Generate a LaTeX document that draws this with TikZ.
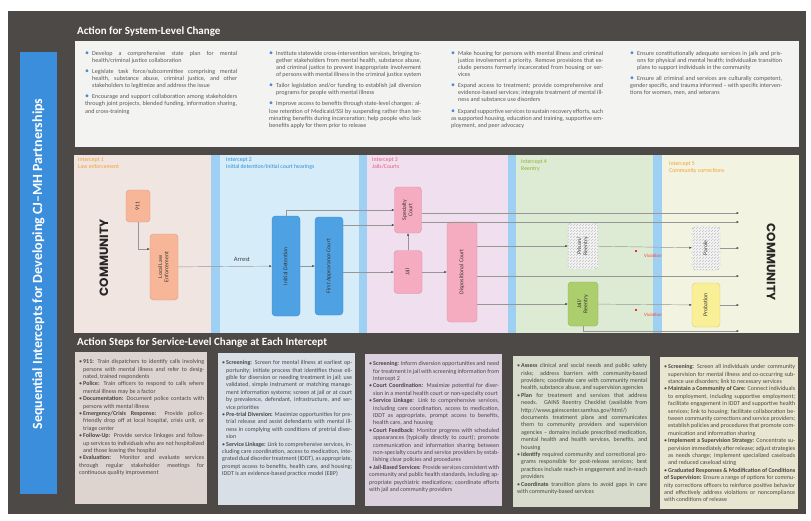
\documentclass[tikz,border=0pt]{standalone}
\usepackage{fontspec}
\setmainfont{Carlito}
\newfontfamily\commfont{Poppins}
\usepackage{xcolor}
\usetikzlibrary{arrows.meta, positioning, calc, patterns}
\definecolor{frameGray}{RGB}{76,73,70}
\definecolor{titleBlue}{RGB}{58,142,220}
\definecolor{bulletBlue}{RGB}{70,140,215}
\definecolor{panelWhite}{RGB}{243,243,242}
\definecolor{icOneBg}{RGB}{241,229,225}
\definecolor{icTwoBg}{RGB}{214,237,249}
\definecolor{stripeBlue}{RGB}{158,208,243}
\definecolor{icThreeBg}{RGB}{239,223,239}
\definecolor{icFourBg}{RGB}{221,235,213}
\definecolor{icFiveBg}{RGB}{243,243,226}
\definecolor{icOrange}{RGB}{242,160,45}
\definecolor{icBlue}{RGB}{45,140,215}
\definecolor{icPink}{RGB}{232,92,122}
\definecolor{icGreen}{RGB}{140,178,45}
\definecolor{nodeSalmon}{RGB}{247,182,152}
\definecolor{nodeBlue}{RGB}{78,162,228}
\definecolor{nodePink}{RGB}{246,172,192}
\definecolor{nodeGreen}{RGB}{172,206,108}
\definecolor{nodeYellow}{RGB}{249,239,150}
\definecolor{lineGray}{RGB}{150,150,150}
\definecolor{stepOne}{RGB}{221,211,207}
\definecolor{stepTwo}{RGB}{216,223,230}
\definecolor{stepThree}{RGB}{221,208,222}
\definecolor{stepFour}{RGB}{216,220,204}
\definecolor{stepFive}{RGB}{232,230,208}

\newcommand{\vlabel}[1]{\rotatebox{90}{\begin{tabular}{@{}c@{}}#1\end{tabular}}}
\newcommand{\tbl}{\par\vspace{4pt}\hangindent=7pt\hangafter=1\noindent\makebox[7pt][l]{\textcolor{bulletBlue}{\scalebox{1.3}{\textbullet}}}}
\newcommand{\blt}{\par\hangindent=4pt\hangafter=1\noindent\makebox[4pt][l]{\textbullet}}

\begin{document}
\begin{tikzpicture}[x=1pt, y=-1pt,
    flow/.style={-{Latex[length=2.4pt, width=2.2pt, color=black!75]}, draw=lineGray, line width=0.45pt},
    box/.style={rectangle, rounded corners=3.5pt, inner sep=1pt, draw=#1!85!black, fill=#1,
                font=\fontsize{5.8}{6.3}\selectfont, text=black!80, align=center},
    hatched/.style={rectangle, rounded corners=3.5pt, inner sep=1pt, fill=gray!8, draw=gray!55, dashed,
                font=\fontsize{5.8}{6.3}\selectfont, text=black!75, align=center,
                postaction={pattern=north east lines, pattern color=gray!50}},
    iclabel/.style={anchor=north west, font=\fontsize{5.8}{7}\selectfont, align=left, inner sep=0pt},
    colText/.style={anchor=north west, text width=152pt, align=justify, inner sep=0pt,
                font=\fontsize{6.1}{7.1}\selectfont, text=black!65},
    stepText/.style={anchor=north west, text width=125pt, align=justify, inner sep=0pt,
                font=\fontsize{6}{7.4}\selectfont, text=black!72},
    heading/.style={anchor=west, text=white, font=\bfseries\fontsize{11}{12}\selectfont, inner sep=0pt},
    community/.style={font=\commfont\bfseries\fontsize{12}{12}\selectfont, text=black!85}
]
    \useasboundingbox (0,0) rectangle (811,520);
    \fill[white] (0,0) rectangle (811,520);

    % Poster frame and title bar
    \fill[frameGray] (8,11) rectangle (806,514);
    \fill[titleBlue] (20,52) rectangle (57,494);
    \node[rotate=90, text=white, font=\bfseries\fontsize{14}{14}\selectfont] (title) at (38.5,264)
        {Sequential Intercepts for Developing CJ--MH Partnerships};

    % System-level change
    \node[heading] (sysHead) at (77,32) {Action for System-Level Change};
    \fill[panelWhite] (75,41) rectangle (799,147);
    \node[colText] (sys1) at (85,44) {%
        \tbl Develop a comprehensive state plan for mental health/criminal justice collaboration
        \tbl Legislate task force/subcommittee comprising mental health, substance abuse, criminal justice, and other stakeholders to legitimize and address the issue
        \tbl Encourage and support collaboration among stakeholders through joint projects, blended funding, information sharing, and cross-training};
    \node[colText] (sys2) at (269,44) {%
        \tbl Institute statewide cross-intervention services, bringing together stakeholders from mental health, substance abuse, and criminal justice to prevent inappropriate involvement of persons with mental illness in the criminal justice system
        \tbl Tailor legislation and/or funding to establish jail diversion programs for people with mental illness
        \tbl Improve access to benefits through state-level changes: allow retention of Medicaid/SSI by suspending rather than terminating benefits during incarceration; help people who lack benefits apply for them prior to release};
    \node[colText] (sys3) at (451,44) {%
        \tbl Make housing for persons with mental illness and criminal justice involvement a priority. Remove provisions that exclude persons formerly incarcerated from housing or services
        \tbl Expand access to treatment; provide comprehensive and evidence-based services; integrate treatment of mental illness and substance use disorders
        \tbl Expand supportive services to sustain recovery efforts, such as supported housing, education and training, supportive employment, and peer advocacy};
    \node[colText] (sys4) at (630,44) {%
        \tbl Ensure constitutionally adequate services in jails and prisons for physical and mental health; individualize transition plans to support individuals in the community
        \tbl Ensure all criminal and services are culturally competent, gender specific, and trauma informed -- with specific interventions for women, men, and veterans};

    % Intercept bands
    \fill[icOneBg] (74,155) rectangle (211,333);
    \fill[stripeBlue] (211,155) rectangle (220,333);
    \fill[icTwoBg] (220,155) rectangle (359,333);
    \fill[stripeBlue] (359,155) rectangle (367,333);
    \fill[icThreeBg] (367,155) rectangle (508,333);
    \fill[stripeBlue] (508,155) rectangle (516,333);
    \fill[icFourBg] (516,155) rectangle (653,333);
    \fill[stripeBlue] (653,155) rectangle (662,333);
    \fill[icFiveBg] (662,155) rectangle (799,333);

    \node[iclabel, text=icOrange] (ic1) at (78,158) {Intercept 1\\Law enforcement};
    \node[iclabel, text=icBlue] (ic2) at (226,158) {Intercept 2\\Initial detention/Initial court hearings};
    \node[iclabel, text=icPink] (ic3) at (372,158) {Intercept 3\\Jails/Courts};
    \node[iclabel, text=icGreen] (ic4) at (521,160) {Intercept 4\\Reentry};
    \node[iclabel, text=icOrange] (ic5) at (669,162) {Intercept 5\\Community corrections};

    % Community ends
    \node[community, rotate=90] (commL) at (104,258) {COMMUNITY};
    \node[community, rotate=-90] (commR) at (771,262) {COMMUNITY};

    % Intercept nodes
    \node[box=nodeSalmon, minimum width=24pt, minimum height=32pt] (n911) at (138,206) {\vlabel{911}};
    \node[box=nodeSalmon, minimum width=28pt, minimum height=66pt] (lle) at (164,267) {\vlabel{Local Law\\Enforcement}};
    \node[box=nodeBlue, minimum width=28pt, minimum height=100pt] (initdet) at (286,266) {\vlabel{Initial Detention}};
    \node[box=nodeBlue, minimum width=28pt, minimum height=98pt] (fac) at (329,266) {\vlabel{First Appearance Court}};
    \node[box=nodePink, minimum width=27pt, minimum height=46pt] (spec) at (408,210) {\vlabel{Specialty\\Court}};
    \node[box=nodePink, minimum width=28pt, minimum height=43pt] (jail) at (408,272) {\vlabel{Jail}};
    \node[box=nodePink, minimum width=30pt, minimum height=100pt] (disp) at (462,272) {\vlabel{Dispositional Court}};
    \node[hatched, minimum width=30pt, minimum height=46pt] (prison) at (583,246) {\vlabel{Prison/\\Reentry}};
    \node[box=nodeGreen, minimum width=30pt, minimum height=44pt] (jailre) at (583,304) {\vlabel{Jail/\\Reentry}};
    \node[hatched, minimum width=28pt, minimum height=44pt] (parole) at (706,248) {\vlabel{Parole}};
    \node[box=nodeYellow, minimum width=28pt, minimum height=44pt] (probation) at (706,305) {\vlabel{Probation}};

    % Exits to community
    \coordinate (out1) at (739,213);
    \coordinate (out2) at (739,222);
    \coordinate (out3) at (739,248);
    \coordinate (out4) at (739,276);
    \coordinate (out5) at (739,305);
    \coordinate (out6) at (739,331);
    \coordinate (specIn) at ([yshift=-15pt]spec.west);

    % Connectors
    \draw[flow] (n911.south) |- ([yshift=18pt]lle.west);
    \draw[flow] (lle) -- node[pos=0.68, above=1pt, font=\fontsize{6.5}{6.5}\selectfont, text=black!75] (arrest) {Arrest} (initdet);
    \draw[flow] (initdet) -- (fac);
    \draw[flow] (fac.east |- jail) -- (jail);
    \draw[flow] (jail) -- (spec);
    \draw[flow] (jail) -- (disp);
    \draw[flow] (initdet.north) |- (spec.west);
    \draw[flow] (fac.east |- specIn) -- (specIn);
    \draw[flow] (spec.east |- out1) -- (out1);
    \draw[flow] (spec.east |- out2) -- (out2);
    \draw[flow] (disp.east |- prison) -- (prison);
    \draw[flow] (disp.east |- jailre) -- (jailre);
    \draw[flow] (disp.east |- out4) -- (out4);
    \draw[flow] (prison) -- (parole);
    \draw[flow] (jailre) -- (probation);
    \draw[flow] (parole.east |- out3) -- (out3);
    \draw[flow] (probation.east |- out5) -- (out5);
    \draw[flow] (jailre.south) |- (out6);

    % Violations
    \node[fill=red!85, inner sep=0pt, minimum size=2.4pt] (viol1) at (636,251) {};
    \node[anchor=north west, text=red!75, font=\fontsize{4.8}{5}\selectfont, inner sep=0pt] (violText1) at (644,254) {Violation};
    \node[fill=red!85, inner sep=0pt, minimum size=2.4pt] (viol2) at (636,310) {};
    \node[anchor=north west, text=red!75, font=\fontsize{4.8}{5}\selectfont, inner sep=0pt] (violText2) at (644,313) {Violation};

    % Service-level action steps
    \node[heading] (stepHead) at (77,343) {Action Steps for Service-Level Change at Each Intercept};
    \fill[stepOne] (75,352) rectangle (207,504);
    \fill[stepTwo] (218,353) rectangle (355,505);
    \fill[stepThree] (365,354) rectangle (502,506);
    \fill[stepFour] (513,356) rectangle (650,507);
    \fill[stepFive] (660,357) rectangle (798,509);

    \node[stepText] (steps1) at (79,356) {%
        \blt \textbf{911:} Train dispatchers to identify calls involving persons with mental illness and refer to designated, trained respondents
        \blt \textbf{Police:} Train officers to respond to calls where mental illness may be a factor
        \blt \textbf{Documentation:} Document police contacts with persons with mental illness
        \blt \textbf{Emergency/Crisis Response:} Provide police-friendly drop off at local hospital, crisis unit, or triage center
        \blt \textbf{Follow-Up:} Provide service linkages and follow-up services to individuals who are not hospitalized and those leaving the hospital
        \blt \textbf{Evaluation:} Monitor and evaluate services through regular stakeholder meetings for continuous quality improvement};
    \node[stepText, text width=130pt] (steps2) at (222,357) {%
        \blt \textbf{Screening:} Screen for mental illness at earliest opportunity; initiate process that identifies those eligible for diversion or needing treatment in jail; use validated, simple instrument or matching management information systems; screen at jail or at court by prevalence, defendant, infrastructure, and service priorities
        \blt \textbf{Pre-trial Diversion:} Maximize opportunities for pretrial release and assist defendants with mental illness in complying with conditions of pretrial diversion
        \blt \textbf{Service Linkage:} Link to comprehensive services, including care coordination, access to medication, integrated dual disorder treatment (IDDT), as appropriate, prompt access to benefits, health care, and housing; IDDT is an evidence-based practice model (EBP)};
    \node[stepText, text width=130pt] (steps3) at (369,358) {%
        \blt \textbf{Screening:} Inform diversion opportunities and need for treatment in jail with screening information from Intercept 2
        \blt \textbf{Court Coordination:} Maximize potential for diversion in a mental health court or non-specialty court
        \blt \textbf{Service Linkage:} Link to comprehensive services, including care coordination, access to medication, IDDT as appropriate, prompt access to benefits, health care, and housing
        \blt \textbf{Court Feedback:} Monitor progress with scheduled appearances (typically directly to court); promote communication and information sharing between non-specialty courts and service providers by establishing clear policies and procedures
        \blt \textbf{Jail-Based Services:} Provide services consistent with community and public health standards, including appropriate psychiatric medications; coordinate efforts with jail and community providers};
    \node[stepText, text width=130pt] (steps4) at (517,360) {%
        \blt \textbf{Assess} clinical and social needs and public safety risks; address barriers with community-based providers; coordinate care with community mental health, substance abuse, and supervision agencies
        \blt \textbf{Plan} for treatment and services that address needs. GAINS Reentry Checklist (available from http://www.gainscenter.samhsa.gov/\allowbreak html/) documents treatment plans and communicates them to community providers and supervision agencies -- domains include prescribed medication, mental health and health services, benefits, and housing
        \blt \textbf{Identify} required community and correctional programs responsible for post-release services; best practices include reach-in engagement and in-reach providers
        \blt \textbf{Coordinate} transition plans to avoid gaps in care with community-based services};
    \node[stepText, text width=131pt] (steps5) at (664,361) {%
        \blt \textbf{Screening:} Screen all individuals under community supervision for mental illness and co-occurring substance use disorders; link to necessary services
        \blt \textbf{Maintain a Community of Care:} Connect individuals to employment, including supportive employment; facilitate engagement in IDDT and supportive health services; link to housing; facilitate collaboration between community corrections and service providers; establish policies and procedures that promote communication and information sharing
        \blt \textbf{Implement a Supervision Strategy:} Concentrate supervision immediately after release; adjust strategies as needs change; implement specialized caseloads and reduced caseload sizing
        \blt \textbf{Graduated Responses \& Modification of Conditions of Supervision:} Ensure a range of options for community corrections officers to reinforce positive behavior and effectively address violations or noncompliance with conditions of release};
\end{tikzpicture}
\end{document}
